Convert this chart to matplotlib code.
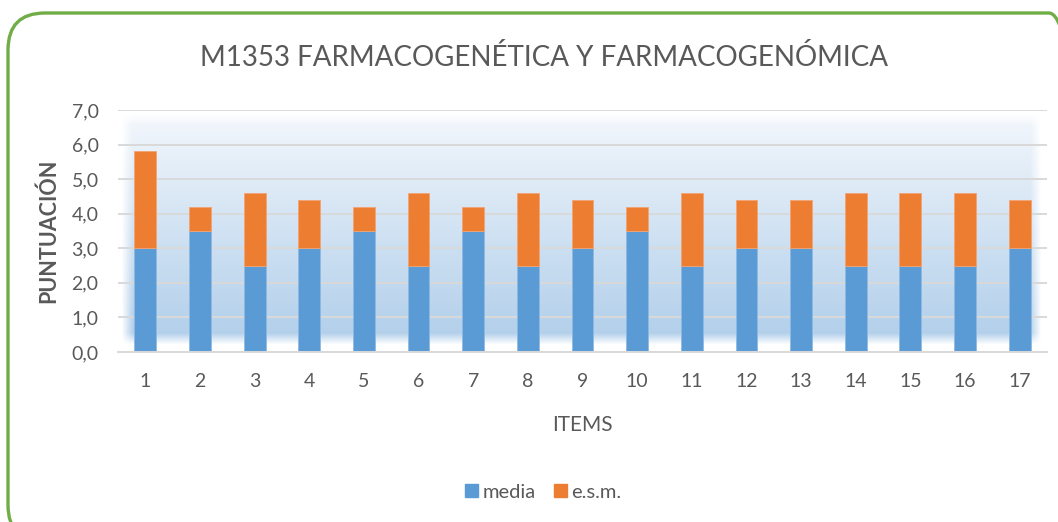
import numpy as np
import matplotlib
matplotlib.use("Agg")
import matplotlib.pyplot as plt
from matplotlib.patches import FancyBboxPatch, Patch
from matplotlib.ticker import FuncFormatter

items = [str(i) for i in range(1, 18)]
media = [3.0, 3.5, 2.5, 3.0, 3.5, 2.5, 3.5, 2.5, 3.0, 3.5, 2.5, 3.0, 3.0, 2.5, 2.5, 2.5, 3.0]
esm = [2.8, 0.7, 2.1, 1.4, 0.7, 2.1, 0.7, 2.1, 1.4, 0.7, 2.1, 1.4, 1.4, 2.1, 2.1, 2.1, 1.4]
yticks = [0, 1, 2, 3, 4, 5, 6, 7]

title = "M1353 FARMACOGENÉTICA Y FARMACOGENÓMICA"
font = "Lato"
txt = "#595959"

fig = plt.figure(figsize=(10.58, 5.22), dpi=100)
W, H = 1058, 522

# green rounded border
border = FancyBboxPatch((8 / W, -20 / H), (W + 20) / W, (H + 7) / H,
                        boxstyle="round,pad=0,rounding_size=0.035",
                        transform=fig.transFigure, fill=False,
                        edgecolor="#70ad47", linewidth=2.4, zorder=0,
                        mutation_aspect=W / H)
fig.patches.append(border)

ax = fig.add_axes([118 / W, 1 - 352 / H, (1047 - 118) / W, (352 - 110) / H])
x = np.arange(1, len(items) + 1)

# soft gradient background
ny, nx = 200, 600
top = np.array([0xf3, 0xf7, 0xfc]) / 255
bot = np.array([0xb0, 0xce, 0xea]) / 255
t = np.linspace(0, 1, ny)[:, None]
rgb = top[None, None, :] * (1 - t[..., None]) + bot[None, None, :] * t[..., None]
rgb = np.broadcast_to(rgb, (ny, nx, 3))
fx = np.linspace(0, 1, nx)
fy = np.linspace(0, 1, ny)
ax_a = np.clip(np.minimum(fx, 1 - fx) / 0.012, 0, 1)
ay_a = np.clip(np.minimum(fy, 1 - fy) / 0.05, 0, 1)
alpha = ay_a[:, None] * ax_a[None, :]
img = np.dstack([rgb, alpha])
ax.imshow(img, extent=(0.55, 17.4, 0.2, 6.9), aspect="auto", zorder=0, interpolation="bilinear")
ax.set_xlim(0.5, len(items) + 0.5)
ax.set_ylim(0, 7)

ax.set_yticks(yticks)
ax.yaxis.set_major_formatter(FuncFormatter(lambda v, p: f"{v:.1f}".replace(".", ",")))
ax.grid(axis="y", color="#d9d9d9", linewidth=1.4, zorder=1)
ax.set_axisbelow(True)

ax.bar(x, media, width=0.4, color="#5b9bd5", edgecolor="#8fb9e2", linewidth=0.6, zorder=2, label="media")
ax.bar(x, esm, width=0.4, bottom=media, color="#ed7d31", edgecolor="#f2a373", linewidth=0.6, zorder=2, label="e.s.m.")

ax.set_xticks(x)
ax.set_xticklabels(items)
for s in ["top", "right", "left"]:
    ax.spines[s].set_visible(False)
ax.spines["bottom"].set_color("#d9d9d9")
ax.spines["bottom"].set_linewidth(1.4)
ax.tick_params(axis="both", length=0, colors=txt, labelsize=14)
ax.tick_params(axis="y", pad=14)
ax.tick_params(axis="x", pad=15)
for lab in ax.get_xticklabels() + ax.get_yticklabels():
    lab.set_fontfamily(font)

ax.set_ylabel("PUNTUACIÓN", fontsize=15.5, fontweight="bold", color=txt, fontfamily=font, labelpad=9)
ax.set_xlabel("ITEMS", fontsize=15, color=txt, fontfamily=font, labelpad=18)

fig.text(544 / W, 1 - 58 / H, title, ha="center", va="center", fontsize=20, color=txt, fontfamily=font)

handles = [Patch(color="#5b9bd5", label="media"), Patch(color="#ed7d31", label="e.s.m.")]
fig.legend(handles=handles, loc="center", bbox_to_anchor=(543 / W, 1 - 492 / H), ncol=2, frameon=False,
           prop={"family": font, "size": 14.5}, labelcolor=txt, handlelength=0.65, handleheight=0.65,
           handletextpad=0.2, columnspacing=0.9)

fig.savefig("out.png", dpi=100, facecolor="white")
